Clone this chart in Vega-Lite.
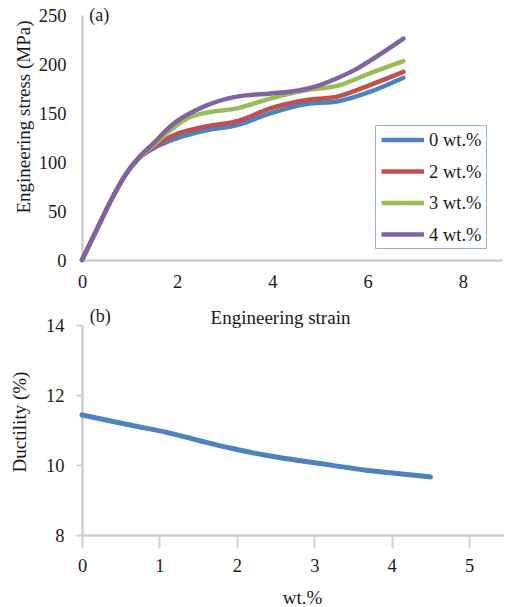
{
  "$schema": "https://vega.github.io/schema/vega-lite/v6.json",
  "padding": {"left": 10, "top": 6, "right": 0, "bottom": 0},
  "background": "white",
  "bounds": "flush",
  "spacing": 65,
  "config": {
    "font": "Liberation Serif",
    "view": {"stroke": null},
    "axis": {
      "labelFont": "Liberation Serif", "titleFont": "Liberation Serif",
      "labelFontSize": 18.5, "titleFontSize": 19, "titleFontWeight": "normal",
      "labelColor": "#1a1a1a", "titleColor": "#1a1a1a",
      "domainColor": "#cfcfcf", "domainWidth": 2.5,
      "tickColor": "#cfcfcf", "tickWidth": 2,
      "grid": false, "labelFlush": false, "labelOverlap": false
    },
    "legend": {
      "labelFont": "Liberation Serif", "labelFontSize": 18.5, "labelColor": "#1a1a1a"
    }
  },
  "datasets": {
    "stress": [
      {"series": "0 wt.%", "strain": 0, "stress": 0},
      {"series": "0 wt.%", "strain": 0.3, "stress": 30},
      {"series": "0 wt.%", "strain": 0.6, "stress": 60},
      {"series": "0 wt.%", "strain": 0.9, "stress": 86},
      {"series": "0 wt.%", "strain": 1.2, "stress": 104},
      {"series": "0 wt.%", "strain": 1.5, "stress": 114},
      {"series": "0 wt.%", "strain": 1.87, "stress": 122},
      {"series": "0 wt.%", "strain": 2.58, "stress": 132},
      {"series": "0 wt.%", "strain": 3.28, "stress": 138},
      {"series": "0 wt.%", "strain": 3.97, "stress": 150},
      {"series": "0 wt.%", "strain": 4.68, "stress": 159},
      {"series": "0 wt.%", "strain": 5.38, "stress": 162},
      {"series": "0 wt.%", "strain": 6.07, "stress": 172},
      {"series": "0 wt.%", "strain": 6.75, "stress": 186},
      {"series": "2 wt.%", "strain": 0, "stress": 0},
      {"series": "2 wt.%", "strain": 0.3, "stress": 30},
      {"series": "2 wt.%", "strain": 0.6, "stress": 60},
      {"series": "2 wt.%", "strain": 0.9, "stress": 86},
      {"series": "2 wt.%", "strain": 1.2, "stress": 104},
      {"series": "2 wt.%", "strain": 1.5, "stress": 115},
      {"series": "2 wt.%", "strain": 1.87, "stress": 126},
      {"series": "2 wt.%", "strain": 2.58, "stress": 136},
      {"series": "2 wt.%", "strain": 3.28, "stress": 142},
      {"series": "2 wt.%", "strain": 3.97, "stress": 155},
      {"series": "2 wt.%", "strain": 4.68, "stress": 163},
      {"series": "2 wt.%", "strain": 5.38, "stress": 167},
      {"series": "2 wt.%", "strain": 6.07, "stress": 179},
      {"series": "2 wt.%", "strain": 6.75, "stress": 192},
      {"series": "3 wt.%", "strain": 0, "stress": 0},
      {"series": "3 wt.%", "strain": 0.3, "stress": 30},
      {"series": "3 wt.%", "strain": 0.6, "stress": 60},
      {"series": "3 wt.%", "strain": 0.9, "stress": 86},
      {"series": "3 wt.%", "strain": 1.2, "stress": 104},
      {"series": "3 wt.%", "strain": 1.5, "stress": 117},
      {"series": "3 wt.%", "strain": 1.87, "stress": 133},
      {"series": "3 wt.%", "strain": 2.23, "stress": 145},
      {"series": "3 wt.%", "strain": 2.58, "stress": 150},
      {"series": "3 wt.%", "strain": 3.28, "stress": 155},
      {"series": "3 wt.%", "strain": 3.97, "stress": 165},
      {"series": "3 wt.%", "strain": 4.68, "stress": 173},
      {"series": "3 wt.%", "strain": 5.38, "stress": 178},
      {"series": "3 wt.%", "strain": 6.07, "stress": 191},
      {"series": "3 wt.%", "strain": 6.75, "stress": 203},
      {"series": "4 wt.%", "strain": 0, "stress": 0},
      {"series": "4 wt.%", "strain": 0.3, "stress": 30},
      {"series": "4 wt.%", "strain": 0.6, "stress": 60},
      {"series": "4 wt.%", "strain": 0.9, "stress": 86},
      {"series": "4 wt.%", "strain": 1.2, "stress": 105},
      {"series": "4 wt.%", "strain": 1.5, "stress": 119},
      {"series": "4 wt.%", "strain": 1.87, "stress": 137},
      {"series": "4 wt.%", "strain": 2.58, "stress": 157},
      {"series": "4 wt.%", "strain": 3.28, "stress": 167},
      {"series": "4 wt.%", "strain": 3.97, "stress": 170},
      {"series": "4 wt.%", "strain": 4.4, "stress": 172},
      {"series": "4 wt.%", "strain": 4.9, "stress": 177},
      {"series": "4 wt.%", "strain": 5.38, "stress": 186},
      {"series": "4 wt.%", "strain": 5.73, "stress": 194},
      {"series": "4 wt.%", "strain": 6.07, "stress": 204},
      {"series": "4 wt.%", "strain": 6.75, "stress": 226}
    ],
    "ductility": [
      {"wt": 0, "ductility": 11.43},
      {"wt": 0.65, "ductility": 11.13},
      {"wt": 1.08, "ductility": 10.94},
      {"wt": 1.51, "ductility": 10.7},
      {"wt": 1.94, "ductility": 10.47},
      {"wt": 2.37, "ductility": 10.28},
      {"wt": 2.8, "ductility": 10.13},
      {"wt": 3.23, "ductility": 9.99},
      {"wt": 3.67, "ductility": 9.85},
      {"wt": 4.1, "ductility": 9.75},
      {"wt": 4.5, "ductility": 9.66}
    ],
    "labelA": [{"x": 0.15, "y": 249, "label": "(a)"}],
    "labelB": [{"x": 0.1, "y": 14.23, "label": "(b)"}]
  },
  "vconcat": [
    {
      "width": 420,
      "height": 245,
      "layer": [
        {
          "data": {"name": "stress"},
          "mark": {"type": "line", "interpolate": "monotone", "strokeWidth": 4.5, "strokeCap": "round"},
          "encoding": {
            "x": {"field": "strain", "type": "quantitative",
              "scale": {"domain": [0, 8.82], "nice": false},
              "axis": {"values": [0, 2, 4, 6, 8], "format": "d", "ticks": false, "labelPadding": 12,
                "title": "Engineering strain", "titleX": 198, "titleY": 57, "titleBaseline": "middle"}},
            "y": {"field": "stress", "type": "quantitative",
              "scale": {"domain": [0, 250], "nice": false},
              "axis": {"values": [0, 50, 100, 150, 200, 250], "format": "d", "ticks": false, "labelPadding": 16,
                "title": "Engineering stress (MPa)", "titleX": -59, "titleY": 101.5, "titleBaseline": "middle"}},
            "color": {"field": "series", "type": "nominal",
              "scale": {"domain": ["0 wt.%", "2 wt.%", "3 wt.%", "4 wt.%"], "range": ["#4F81BD", "#C0504D", "#9BBB59", "#8064A2"]},
              "legend": {"title": null, "orient": "none", "legendX": 293, "legendY": 110,
                "symbolType": "M-1,0H4", "symbolSize": 289, "symbolStrokeWidth": 4.5,
                "labelOffset": 28, "rowPadding": 10.5, "padding": 4, "offset": 0,
                "strokeColor": "#95b3d7", "fillColor": "white"}}
          }
        },
        {
          "data": {"name": "labelA"},
          "mark": {"type": "text", "align": "left", "baseline": "middle", "fontSize": 18, "font": "Liberation Serif", "color": "#1a1a1a"},
          "encoding": {
            "x": {"field": "x", "type": "quantitative"},
            "y": {"field": "y", "type": "quantitative"},
            "text": {"field": "label"}
          }
        }
      ]
    },
    {
      "width": 422,
      "height": 210,
      "layer": [
        {
          "data": {"name": "ductility"},
          "mark": {"type": "line", "interpolate": "monotone", "strokeWidth": 5, "strokeCap": "round", "color": "#4F81BD"},
          "encoding": {
            "x": {"field": "wt", "type": "quantitative",
              "scale": {"domain": [0, 5.45], "nice": false},
              "axis": {"values": [0, 1, 2, 3, 4, 5], "format": "d", "tickSize": 13, "labelPadding": 8,
                "title": "wt.%", "titleX": 220, "titleY": 62, "titleBaseline": "middle"}},
            "y": {"field": "ductility", "type": "quantitative",
              "scale": {"domain": [8, 14], "nice": false, "zero": false},
              "axis": {"values": [8, 10, 12, 14], "format": "d", "tickSize": 6, "labelPadding": 12,
                "title": "Ductility (%)", "titleX": -63, "titleY": 96.5, "titleBaseline": "middle"}}
          }
        },
        {
          "data": {"name": "labelB"},
          "mark": {"type": "text", "align": "left", "baseline": "middle", "fontSize": 18, "font": "Liberation Serif", "color": "#1a1a1a"},
          "encoding": {
            "x": {"field": "x", "type": "quantitative"},
            "y": {"field": "y", "type": "quantitative"},
            "text": {"field": "label"}
          }
        }
      ]
    }
  ]
}
